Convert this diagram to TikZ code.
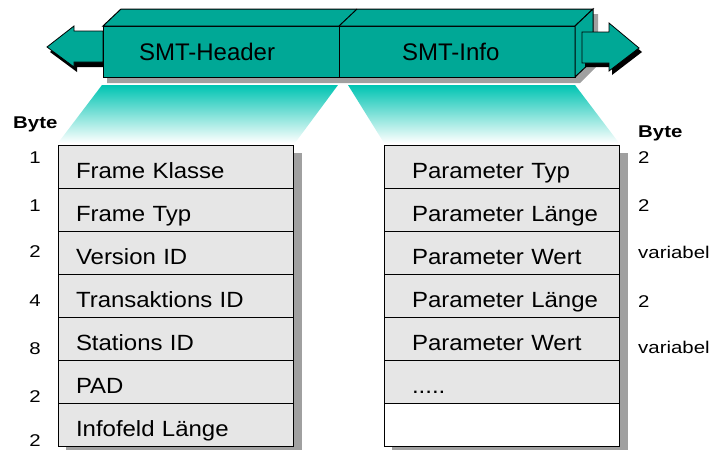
\documentclass[tikz,border=0pt]{standalone}
\usepackage{fontspec}
\setmainfont{Liberation Sans}
\newfontfamily\cellfont{Liberation Sans}[FakeStretch=1.09]
\newfontfamily\bytefont{Liberation Sans}[FakeStretch=1.2]
\usetikzlibrary{positioning}
\definecolor{smtteal}{RGB}{0,168,150}
\definecolor{fadeteal}{RGB}{0,196,178}
\definecolor{cellgray}{RGB}{230,230,230}
\definecolor{shadowgray}{RGB}{160,160,160}

\begin{document}
\begin{tikzpicture}[x=1pt, y=-1pt, line join=miter,
    face/.style={draw=black, line width=1pt, fill=smtteal},
    hdr/.style={face, rectangle, minimum width=236pt, minimum height=51pt, text width=236pt, align=left, inner sep=0pt, outer sep=0pt, execute at begin node={\hspace*{#1}}, font=\fontsize{24}{28}\selectfont},
    cell/.style={rectangle, draw=black, line width=1pt, fill=cellgray, minimum width=235pt, minimum height=43pt, text width=235pt, align=left, inner sep=0pt, outer sep=0pt, text height=24pt, text depth=0pt, execute at begin node={\hspace*{#1}}, font=\cellfont\fontsize{22}{26}\selectfont},
    bytehead/.style={anchor=base west, inner sep=0pt, font=\bytefont\bfseries\fontsize{17}{20}\selectfont},
    leftnum/.style={anchor=base, inner sep=0pt, font=\bytefont\fontsize{17}{20}\selectfont},
    rightnum/.style={anchor=base west, inner sep=0pt, font=\bytefont\fontsize{17}{20}\selectfont}]

    \useasboundingbox (0,0) rectangle (711,450);

    % shadows
    \fill[shadowgray] (125,14) -- (598,14) -- (598,65) -- (580,83) -- (107,83) -- (107,31) -- cycle;
    \fill[shadowgray] (66,153) rectangle (302,450);
    \fill[shadowgray] (392,153) rectangle (628,450);

    % left arrow
    \fill[black] (50,52) -- (77,31) -- (77,36) -- (106,36) -- (106,67) -- (77,67) -- (77,72) -- cycle;
    \draw[face, line width=0.8pt] (47,47) -- (74,26) -- (74,31) -- (103,31) -- (103,62) -- (74,62) -- (74,67) -- cycle;

    % SMT frame
    \node[hdr=36pt] (smthdr) at (221,51.5) {SMT-Header};
    \node[hdr=63pt] (smtinfo) at (457,51.5) {SMT-Info};
    \draw[face] (smthdr.north west) -- ++(18,-17) -- ++(472,0) -- (smtinfo.north east) -- cycle;
    \draw[face] (smtinfo.north east) -- ++(18,-17) -- ++(0,51) -- (smtinfo.south east) -- cycle;
    \draw[line width=1pt] (smthdr.north east) -- ++(18,-17);

    % right arrow
    \fill[black] (585,36) -- (612,36) -- (612,27) -- (642,52) -- (612,75) -- (612,67) -- (585,67) -- cycle;
    \draw[face, line width=0.8pt] (582,32) -- (609,32) -- (609,23) -- (639,48) -- (609,71) -- (609,63) -- (582,63) -- cycle;

    % fans
    \shade[top color=fadeteal, bottom color=white] (102,85) -- (338,85) -- (295,143) -- (58,143) -- cycle;
    \shade[top color=fadeteal, bottom color=white] (348,85) -- (575,85) -- (619,143) -- (384,143) -- cycle;

    % SMT header fields
    \node[cell=18pt] (fk) at (175.5,166.5) {Frame Klasse};
    \node[cell=18pt, below=0pt of fk] (ft) {Frame Typ};
    \node[cell=18pt, below=0pt of ft] (vid) {Version ID};
    \node[cell=18pt, below=0pt of vid] (tid) {Transaktions ID};
    \node[cell=18pt, below=0pt of tid] (sid) {Stations ID};
    \node[cell=18pt, below=0pt of sid] (pad) {PAD};
    \node[cell=18pt, below=0pt of pad] (ifl) {Infofeld Länge};

    % SMT info fields
    \node[cell=28pt] (ptyp) at (501.5,166.5) {Parameter Typ};
    \node[cell=28pt, below=0pt of ptyp] (plen) {Parameter Länge};
    \node[cell=28pt, below=0pt of plen] (pwert) {Parameter Wert};
    \node[cell=28pt, below=0pt of pwert] (plenb) {Parameter Länge};
    \node[cell=28pt, below=0pt of plenb] (pwertb) {Parameter Wert};
    \node[cell=28pt, below=0pt of pwertb] (pmore) {.....};
    \node[cell=28pt, below=0pt of pmore, fill=white] (pend) {};

    % byte counts
    \node[bytehead] (lbyte) at (13,128) {Byte};
    \node[leftnum] (lfk) at (35,163) {1};
    \node[leftnum] (lft) at (35,211) {1};
    \node[leftnum] (lvid) at (35,257) {2};
    \node[leftnum] (ltid) at (35,306) {4};
    \node[leftnum] (lsid) at (35,354) {8};
    \node[leftnum] (lpad) at (35,402) {2};
    \node[leftnum] (lifl) at (35,446) {2};

    \node[bytehead] (rbyte) at (638,137) {Byte};
    \node[rightnum] (rptyp) at (638,163) {2};
    \node[rightnum] (rplen) at (638,211) {2};
    \node[rightnum] (rpwert) at (638,258) {variabel};
    \node[rightnum] (rplenb) at (638,307) {2};
    \node[rightnum] (rpwertb) at (638,353) {variabel};
\end{tikzpicture}
\end{document}
